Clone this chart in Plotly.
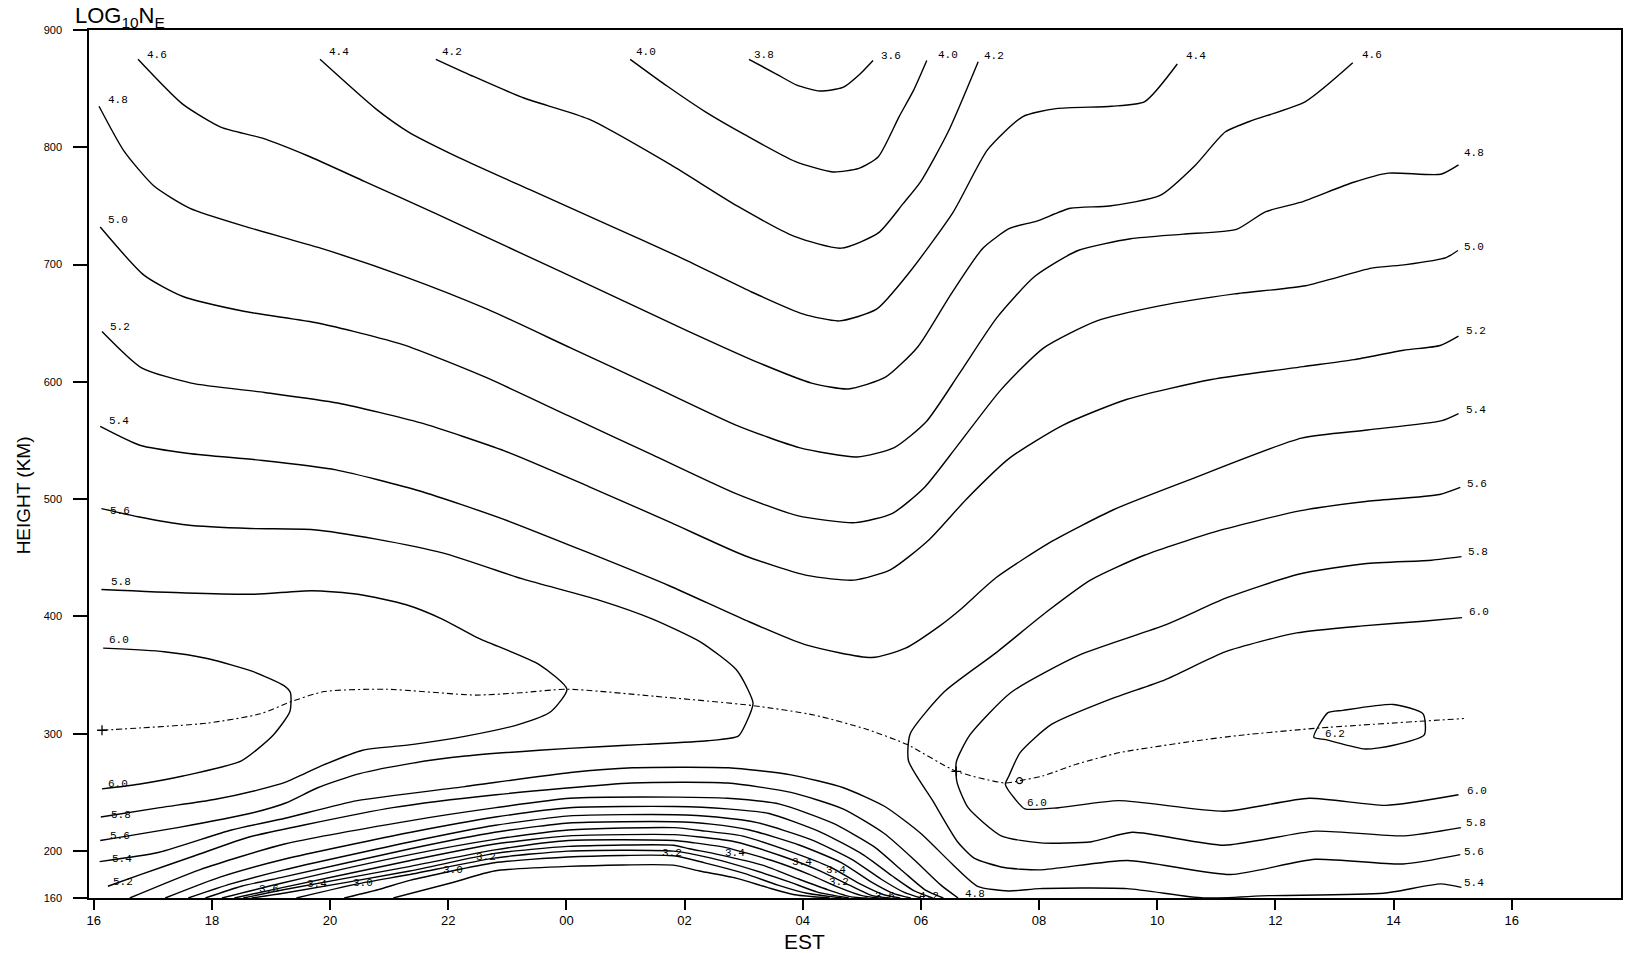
import plotly.graph_objects as go

# ---- Data: isolines of log10(Ne), as (EST hour, height km); hours > 24 are the next day ----
tick_hours = [16, 18, 20, 22, 24, 26, 28, 30, 32, 34, 36, 38, 40]
tick_text = ["16", "18", "20", "22", "00", "02", "04", "06", "08", "10", "12", "14", "16"]
height_ticks = [160, 200, 300, 400, 500, 600, 700, 800, 900]

c38 = [(27.09,875),(27.57,862),(27.90,853),(28.29,848),(28.68,851),(28.98,863),(29.19,874)]
c40 = [(25.08,875),(25.71,852),(26.36,830),(27.01,811),(27.87,788),(28.51,779),(28.95,782),(29.28,792),(29.63,826),(29.88,849),(30.10,874)]
c42 = [(21.79,875),(22.40,861),(23.28,842),(24.38,824),(25.77,785),(26.89,750),(27.86,724),(28.65,714),(29.28,727),(29.70,752),(30.00,771),(30.46,813),(30.97,873)]
c44 = [(19.83,875),(20.77,833),(21.33,813),(22.19,791),(23.42,763),(24.66,735),(25.89,707),(27.12,677),(28.00,658),(28.62,652),(29.25,662),(29.80,693),(30.55,745),(31.13,798),(31.72,826),(32.29,833),(33.23,835),(33.79,839),(34.34,871)]
c46 = [(16.75,875),(17.50,837),(18.16,817),(18.84,808),(19.61,793),(20.58,771),(21.81,743),(23.22,710),(24.63,677),(26.03,644),(27.27,616),(28.15,599),(28.77,594),(29.40,604),(29.95,630),(30.50,674),(31.05,714),(31.51,731),(31.96,737),(32.53,748),(33.19,750),(34.05,759),(34.65,785),(35.15,813),(35.56,822),(36.51,839),(37.31,872)]
c48 = [(16.09,835),(16.51,797),(17.02,767),(17.63,748),(18.60,732),(19.84,714),(21.25,690),(22.66,662),(24.07,629),(25.48,596),(26.88,563),(27.94,544),(28.92,536),(29.55,544),(30.09,566),(30.65,607),(31.29,655),(31.93,690),(32.66,712),(33.55,722),(34.44,726),(35.34,730),(35.83,745),(36.42,753),(37.31,770),(37.91,778),(38.80,777),(39.10,785)]
c50 = [(16.11,732),(16.85,691),(17.50,673),(18.56,660),(19.81,650),(21.22,632),(22.63,604),(24.04,571),(25.45,538),(26.86,505),(27.91,486),(28.89,480),(29.52,488),(30.06,510),(30.61,545),(31.35,593),(32.08,629),(32.98,652),(34.06,665),(35.31,675),(36.51,682),(37.63,697),(38.21,700),(38.89,706),(39.09,712)]
c52 = [(16.14,643),(16.81,612),(17.65,599),(18.89,591),(20.13,582),(21.54,565),(22.96,541),(24.37,511),(25.77,480),(27.01,452),(28.07,435),(28.87,431),(29.49,440),(30.13,465),(30.77,500),(31.50,535),(32.40,563),(33.48,585),(34.92,602),(36.47,613),(37.33,619),(38.17,627),(38.79,631),(39.10,639)]
c54 = [(16.11,562),(16.78,546),(17.61,539),(18.86,533),(20.10,525),(21.52,507),(22.93,483),(24.34,455),(25.75,426),(26.98,398),(28.04,376),(29.17,365),(29.74,373),(30.32,392),(30.67,406),(31.27,433),(32.18,463),(33.26,491),(34.52,516),(36.44,552),(37.56,559),(38.82,567),(39.10,573)]

c56_night = [(16.13,492),(16.75,485),(17.58,478),(18.65,475),(19.72,474),(20.78,466),(21.92,454),(23.26,432),(24.55,414),(25.45,398),(26.28,378),(26.87,355),(27.07,338),(27.16,326),(27.04,309),(26.91,298),(26.39,294),(25.32,291),(24.56,289),(23.54,286),(22.29,281),(21.40,275),(20.50,266),(19.79,254),(19.25,241),(18.64,232),(17.42,220),(16.11,209)]
c58_night = [(16.13,423),(17.56,420),(18.73,419),(19.69,422),(20.47,419),(21.29,410),(21.89,398),(22.49,382),(23.54,359),(24.01,338),(23.74,319),(23.20,308),(22.30,298),(21.41,291),(20.55,286),(19.87,273),(19.26,259),(18.77,252),(18.04,244),(17.12,237),(16.12,229)]
c60_night = [(16.16,373),(17.19,370),(17.94,364),(18.70,353),(19.22,341),(19.33,335),(19.32,319),(19.04,299),(18.50,277),(17.51,264),(16.76,257),(16.14,253)]

c56_day = [(39.13,510),(38.78,504),(37.53,498),(36.41,490),(35.03,473),(33.77,452),(32.87,431),(32.13,404),(31.27,369),(30.40,336),(29.82,300),(29.79,277),(30.20,243),(30.62,208),(30.90,194),(31.41,186),(32.02,184),(33.50,192),(35.24,180),(36.67,193),(38.16,189),(39.13,197)]
c58_day = [(39.15,451),(38.65,448),(37.51,445),(36.39,436),(35.18,416),(34.15,393),(32.68,367),(31.52,335),(30.83,299),(30.60,276),(30.61,259),(30.80,237),(31.36,213),(32.03,207),(32.89,208),(33.58,216),(35.13,205),(36.68,217),(38.18,213),(39.14,220)]
c60_day = [(39.16,399),(38.50,396),(37.48,392),(36.36,386),(35.16,370),(34.13,346),(33.23,330),(32.21,308),(31.68,284),(31.49,264),(31.43,257),(31.60,244),(31.76,236),(32.33,237),(33.35,243),(35.14,234),(36.57,245),(37.87,239),(39.10,248)]
c62_day = [(36.65,297),(36.89,318),(37.14,320),(38.00,325),(38.50,317),(38.52,299),(37.98,290),(37.52,287),(36.85,295),(36.65,297)]

c54_low = [(16.10,191),(17.11,199),(18.33,218),(19.24,228),(20.46,243),(22.28,255),(24.07,267),(25.12,271),(26.74,271),(27.80,265),(28.69,254),(29.39,238),(30.00,215),(30.53,189),(30.96,170),(31.49,166),(32.01,168),(33.49,168),(34.78,160),(35.89,162),(37.83,164),(38.80,172),(39.15,169)]
c52_low = [(16.24,170),(16.79,180),(17.71,196),(18.63,212),(19.54,222),(21.06,237),(22.81,248),(25.11,258),(26.73,258),(27.80,250),(28.68,236),(29.38,215),(29.90,192),(30.34,171),(30.63,160)]
a50 = [(16.61,160),(17.79,184),(19.23,206),(21.37,226),(22.81,237),(24.06,245),(25.84,246),(26.73,245),(27.61,240),(28.50,224),(29.20,204),(29.69,183),(30.07,167),(30.38,160)]
a48 = [(17.21,160),(18.15,178),(19.22,193),(21.37,216),(22.80,229),(24.05,237),(25.83,238),(26.72,236),(27.43,232),(28.31,216),(29.02,197),(29.51,179),(29.89,166),(30.20,160)]
a46 = [(17.60,160),(18.32,172),(19.22,184),(21.37,208),(22.80,222),(24.05,230),(25.83,231),(26.54,229),(27.25,224),(28.13,210),(28.83,193),(29.33,176),(29.71,165),(30.00,160)]
a44 = [(17.89,160),(18.50,170),(19.22,178),(21.36,202),(22.79,216),(24.04,224),(25.82,225),(26.45,223),(27.10,218),(27.95,205),(28.66,190),(29.15,174),(29.53,164),(29.83,160)]
a42 = [(18.17,160),(19.21,173),(21.36,197),(22.79,210),(24.04,218),(25.82,220),(26.36,217),(26.97,213),(27.77,200),(28.48,186),(28.97,172),(29.36,163),(29.65,160)]
a40 = [(18.38,160),(19.21,169),(21.36,192),(22.79,206),(24.04,213),(25.82,214),(26.26,212),(26.85,208),(27.63,196),(28.30,183),(28.79,171),(29.18,162),(29.47,160)]
a38 = [(18.53,160),(19.21,167),(21.36,187),(22.79,201),(24.04,209),(25.82,209),(26.17,207),(26.70,203),(27.48,192),(28.12,180),(28.61,169),(29.00,162),(29.29,160)]
a36 = [(18.67,160),(19.21,164),(21.35,183),(22.79,198),(24.03,204),(25.81,205),(26.08,202),(26.58,197),(27.32,188),(27.94,176),(28.43,167),(28.82,161),(29.10,160)]
a34 = [(19.43,160),(20.46,172),(21.35,180),(22.78,194),(24.03,200),(25.81,200),(26.45,194),(27.16,184),(27.76,174),(28.25,165),(28.78,160)]
a32 = [(20.24,160),(20.81,167),(21.35,175),(22.78,190),(24.03,195),(25.81,196),(26.34,190),(27.01,181),(27.58,171),(28.07,164),(28.67,160)]
a30 = [(21.07,160),(22.06,173),(22.78,183),(24.03,187),(25.81,188),(26.25,183),(26.87,177),(27.40,169),(27.84,163),(28.46,160)]

# height of the F2 peak (dashed)
hmf2 = [(16.14,303),(16.79,305),(17.91,309),(18.82,317),(19.32,327),(19.90,336),(20.95,338),(22.46,333),(23.23,335),(24.01,338),(25.49,332),(27.16,324),(28.19,316),(29.07,304),(29.76,291),(30.60,268),(31.43,258),(31.67,260),(32.06,264),(32.63,274),(33.37,284),(34.66,294),(35.46,299),(36.76,305),(39.19,313)]

# contour labels (hour, km, text)
labels = [
    (17.07,879,"4.6"),(16.41,840,"4.8"),(16.41,738,"5.0"),(16.44,647,"5.2"),(16.42,567,"5.4"),
    (16.45,490,"5.6"),(16.46,429,"5.8"),(16.43,380,"6.0"),
    (16.41,257,"6.0"),(16.46,231,"5.8"),(16.45,213,"5.6"),(16.48,193,"5.4"),(16.49,174,"5.2"),
    (20.15,881,"4.4"),(22.06,881,"4.2"),(25.35,881,"4.0"),(27.35,879,"3.8"),(29.50,878,"3.6"),
    (30.46,879,"4.0"),(31.23,878,"4.2"),(34.66,878,"4.4"),(37.64,879,"4.6"),
    (39.36,795,"4.8"),(39.37,715,"5.0"),(39.39,643,"5.2"),(39.39,576,"5.4"),(39.41,513,"5.6"),
    (39.43,455,"5.8"),(39.45,404,"6.0"),(37.01,300,"6.2"),(39.42,251,"6.0"),(39.39,224,"5.8"),
    (39.37,199,"5.6"),(39.37,173,"5.4"),(31.96,241,"6.0"),
    (18.96,168,"3.6"),(19.78,172,"3.4"),(20.56,173,"3.0"),(22.08,184,"3.0"),(22.64,195,"3.2"),
    (25.78,198,"3.2"),(26.85,198,"3.4"),(27.98,191,"3.4"),(28.56,184,"3.4"),(28.61,174,"3.2"),
    (29.39,162,"3.6"),(30.14,162,"4.2"),(30.92,163,"4.8"),
]

# ---- Figure ----
fig = go.Figure()
isolines = [c38, c40, c42, c44, c46, c48, c50, c52, c54,
            c56_night, c58_night, c60_night, c56_day, c58_day, c60_day, c62_day,
            c54_low, c52_low, a50, a48, a46, a44, a42, a40, a38, a36, a34, a32, a30]
for pts in isolines:
    fig.add_trace(go.Scatter(
        x=[p[0] for p in pts], y=[p[1] for p in pts], mode="lines",
        line=dict(color="black", width=1.4, shape="spline", smoothing=0.6),
        hoverinfo="skip", showlegend=False))

fig.add_trace(go.Scatter(
    x=[p[0] for p in hmf2], y=[p[1] for p in hmf2], mode="lines",
    line=dict(color="black", width=1.1, dash="6px,3px,2px,3px", shape="spline", smoothing=0.6),
    hoverinfo="skip", showlegend=False))
fig.add_trace(go.Scatter(
    x=[hmf2[0][0], hmf2[15][0]], y=[hmf2[0][1], hmf2[15][1]], mode="markers",
    marker=dict(symbol="cross-thin", size=7, line=dict(color="black", width=1.3)),
    hoverinfo="skip", showlegend=False))
fig.add_trace(go.Scatter(
    x=[hmf2[17][0]], y=[hmf2[17][1]], mode="markers",
    marker=dict(symbol="circle-open", size=6, color="black", line=dict(width=1.2)),
    hoverinfo="skip", showlegend=False))

annots = []
for t, h, txt in labels:
    annots.append(dict(x=t, y=h, xref="x", yref="y", text=txt, showarrow=False,
                       font=dict(family="Liberation Mono", size=11, color="black"),
                       xanchor="center", yanchor="middle"))
annots.append(dict(x=-0.0104, y=1.015, xref="paper", yref="paper", xanchor="left", yanchor="middle",
                   text="LOG<sub>10</sub>N<sub>E</sub>", showarrow=False,
                   font=dict(family="Liberation Sans", size=22, color="black")))
annots.append(dict(x=0.467, y=-0.050, xref="paper", yref="paper", xanchor="center", yanchor="middle",
                   text="EST", showarrow=False,
                   font=dict(family="Liberation Sans", size=21, color="black")))
annots.append(dict(x=-0.043, y=0.464, xref="paper", yref="paper", xanchor="center", yanchor="middle",
                   text="HEIGHT (KM)", textangle=-90, showarrow=False,
                   font=dict(family="Liberation Sans", size=19, color="black")))

fig.update_layout(
    width=1648, height=953,
    margin=dict(l=89, r=27, t=30, b=55),
    paper_bgcolor="white", plot_bgcolor="white",
    showlegend=False,
    annotations=annots,
    xaxis=dict(range=[15.92, 41.85], tickmode="array", tickvals=tick_hours, ticktext=tick_text,
               ticks="outside", ticklen=10, tickwidth=1.5, tickcolor="black",
               showline=True, linecolor="black", linewidth=1.6, mirror=True,
               showgrid=False, zeroline=False,
               tickfont=dict(family="Liberation Sans", size=13, color="black")),
    yaxis=dict(range=[160, 900], tickmode="array", tickvals=height_ticks,
               ticks="outside", ticklen=14, tickwidth=1.5, tickcolor="black",
               ticklabelstandoff=9,
               showline=True, linecolor="black", linewidth=1.6, mirror=True,
               showgrid=False, zeroline=False,
               tickfont=dict(family="Liberation Sans", size=11, color="black")),
)

fig.write_html("out.html")
